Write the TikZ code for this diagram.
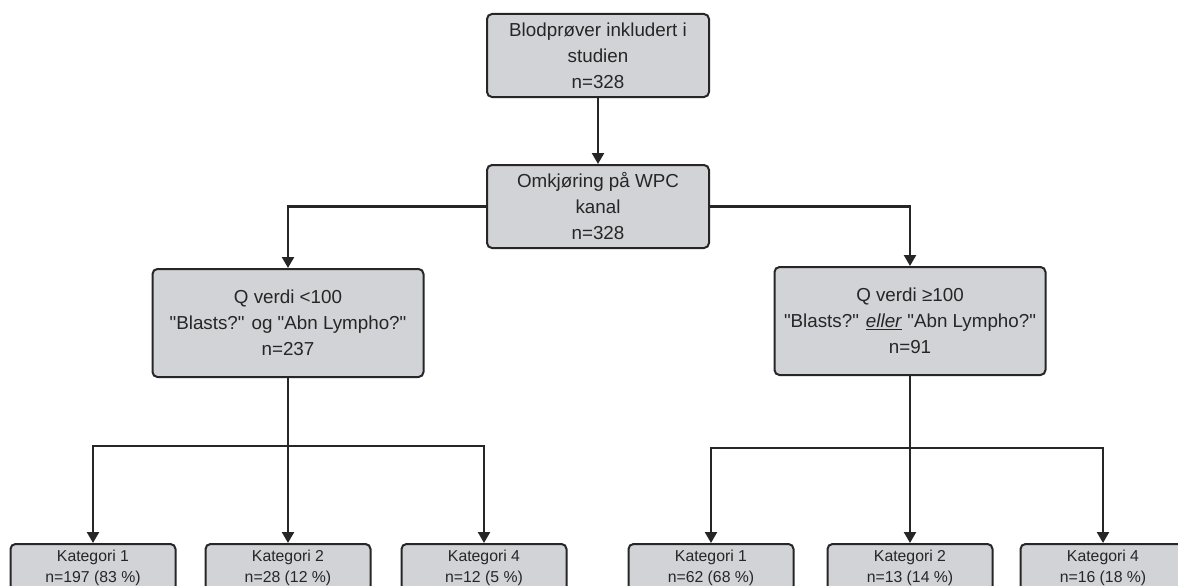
\documentclass[tikz,border=0pt]{standalone}
\usepackage{fontspec}
\setmainfont{Liberation Sans}
\usetikzlibrary{arrows.meta, positioning}
\definecolor{boxgray}{RGB}{209,211,214}
\definecolor{linegray}{RGB}{38,38,38}
\newcommand{\qt}[1]{\textquotedbl#1\textquotedbl}
\tikzset{
	x=1pt, y=-1pt, % one unit is one pixel of the reference
	box/.style={draw=linegray, line width=2pt, fill=boxgray, rounded corners=5pt, align=center, inner sep=2pt, text=black!85}, % grey flow box
	bigbox/.style={box, font=\fontsize{18.8}{26}\selectfont}, % upper boxes
	catbox/.style={box, font=\fontsize{15.8}{21}\selectfont, minimum width=165pt, minimum height=47pt, anchor=north}, % category boxes
	link/.style={draw=linegray, line width=2.4pt, -{Triangle[width=12pt,length=11pt]}}, % arrows between boxes
}

\begin{document}
\begin{tikzpicture}
	\useasboundingbox (0,0) rectangle (1178,586);
	\clip (0,0) rectangle (1178,586);

	\node[bigbox, minimum width=222pt, minimum height=83pt] (1) at (598,55.5) {Blodprøver inkludert i\\studien\\n=328};
	\node[bigbox, minimum width=222pt, minimum height=83pt] (2) at (598,206.5) {Omkjøring på WPC\\kanal\\n=328};
	\node[bigbox, minimum width=271pt, minimum height=108pt] (3) at (288,323) {Q verdi <100\\\qt{Blasts?} og \qt{Abn Lympho?}\\n=237};
	\node[bigbox, minimum width=271pt, minimum height=108pt] (4) at (910,321) {Q verdi ≥100\\\qt{Blasts?} \underline{\textit{eller}} \qt{Abn Lympho?}\\n=91};

	\node[catbox] (5) at (93,543) {Kategori 1\\n=197 (83 \%)};
	\node[catbox] (6) at (288,543) {Kategori 2\\n=28 (12 \%)};
	\node[catbox] (7) at (484,543) {Kategori 4\\n=12 (5 \%)};
	\node[catbox] (8) at (711,543) {Kategori 1\\n=62 (68 \%)};
	\node[catbox] (9) at (910,543) {Kategori 2\\n=13 (14 \%)};
	\node[catbox] (10) at (1103,543) {Kategori 4\\n=16 (18 \%)};

	\coordinate (s3) at (288,446);
	\coordinate (s4) at (910,448);

	\draw[link] (1) -- (2);
	\draw[link] (2.west) -| (3.north);
	\draw[link] (2.east) -| (4.north);
	\draw[link] (3.south) -- (6.north);
	\draw[link] (s3) -| (5.north);
	\draw[link] (s3) -| (7.north);
	\draw[link] (4.south) -- (9.north);
	\draw[link] (s4) -| (8.north);
	\draw[link] (s4) -| (10.north);
\end{tikzpicture}
\end{document}
